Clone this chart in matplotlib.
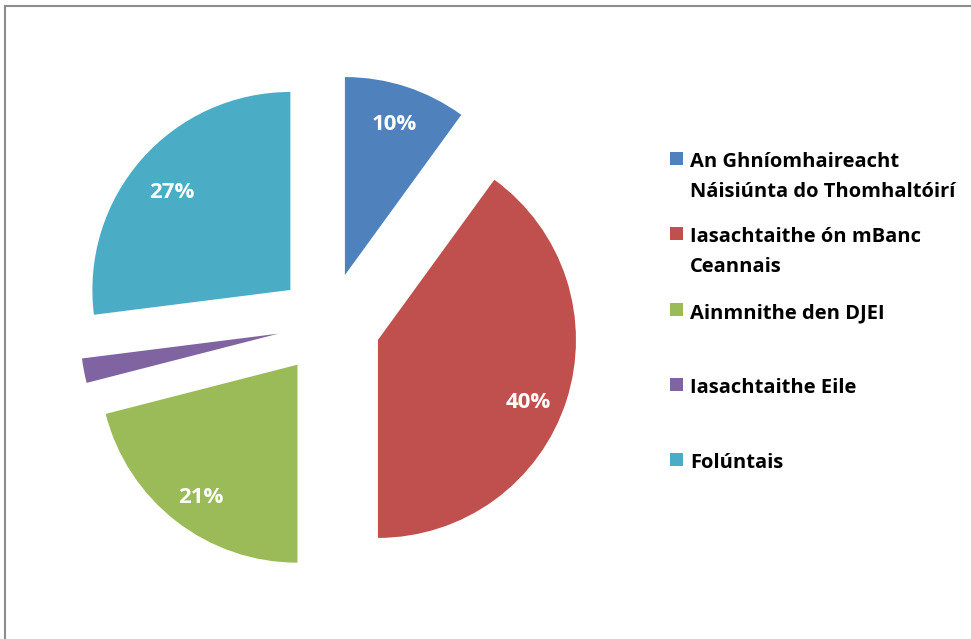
import matplotlib.pyplot as plt
from matplotlib.patches import Rectangle

# sonraí an chairt
labels = ['An Ghníomhaireacht\nNáisiúnta do Thomhaltóirí',
          'Iasachtaithe ón mBanc\nCeannais',
          'Ainmnithe den DJEI',
          'Iasachtaithe Eile',
          'Folúntais']
values = [10, 40, 21, 2, 27]
colors = ['#4F81BD', '#C0504D', '#9BBB59', '#8064A2', '#4BACC6']

font = 'Open Sans'

fig = plt.figure(figsize=(9.71, 6.39), dpi=100)

# pie centred at ~(329, 324) px, radius ~198 px
half = 260
ax = fig.add_axes([(329 - half) / 971, (639 - 324 - half) / 639,
                   2 * half / 971, 2 * half / 639])
lim = half / 198
ax.set_aspect('equal')
ax.axis('off')


def pct_text(p):
    return '%.0f%%' % p if p >= 5 else ''


wedges, texts, autotexts = ax.pie(values, colors=colors, startangle=90,
                                  counterclock=False, explode=[0.26] * 5,
                                  autopct=pct_text, pctdistance=0.8,
                                  radius=1, wedgeprops=dict(linewidth=0))
ax.set_xlim(-lim, lim)
ax.set_ylim(-lim, lim)

# small vertical nudges so the labels sit where Excel put them
nudge = [0.01, -0.055, -0.025, 0, -0.025]
for t, dy in zip(autotexts, nudge):
    t.set_color('white')
    t.set_fontsize(16)
    t.set_fontweight('bold')
    t.set_fontfamily(font)
    t.set_va('center_baseline')
    x, y = t.get_position()
    t.set_position((x, y + dy))

# legend drawn by hand so the squares line up with the first text line
leg_base = [167, 242, 318, 393, 468]
for lab, col, yb in zip(labels, colors, leg_base):
    fig.patches.append(Rectangle((670 / 971, 1 - (yb - 2) / 639), 13 / 971, 13 / 639,
                                 transform=fig.transFigure, facecolor=col,
                                 edgecolor='none'))
    for i, line in enumerate(lab.split('\n')):
        fig.text(690 / 971, 1 - (yb + 30 * i) / 639, line, ha='left', va='baseline',
                 fontsize=14.5, fontweight='bold', fontfamily=font, color='black')

# chart frame
fig.add_artist(plt.Line2D([5 / 971, 5 / 971], [0, 1 - 6 / 639],
                          transform=fig.transFigure, color='#8c8c8c', lw=1.5))
fig.add_artist(plt.Line2D([5 / 971, 1], [1 - 6 / 639, 1 - 6 / 639],
                          transform=fig.transFigure, color='#8c8c8c', lw=1.5))

fig.savefig('out.png', dpi=100)
